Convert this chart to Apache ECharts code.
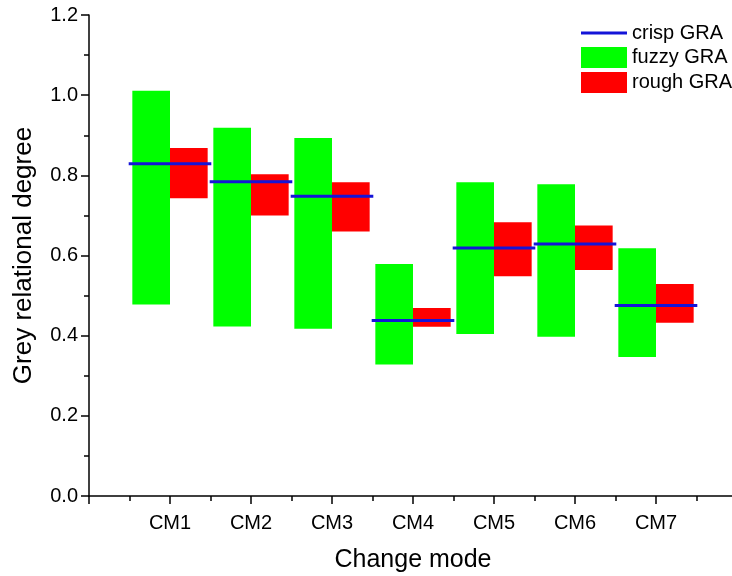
<!DOCTYPE html>
<html><head><meta charset="utf-8">
<script src="https://cdn.jsdelivr.net/npm/echarts@6/dist/echarts.min.js"></script>
<style>html,body{margin:0;padding:0;background:#fff}#c{width:732px;height:576px}</style>
</head><body><div id="c"></div>
<script>
const categories = ['CM1','CM2','CM3','CM4','CM5','CM6','CM7'];
const crispGRA  = [0.829,0.784,0.748,0.438,0.619,0.629,0.475];
const fuzzyLow  = [0.478,0.423,0.417,0.328,0.404,0.397,0.347];
const fuzzyHigh = [1.011,0.919,0.893,0.579,0.783,0.778,0.618];
const roughLow  = [0.743,0.700,0.660,0.422,0.548,0.564,0.432];
const roughHigh = [0.868,0.803,0.783,0.469,0.683,0.675,0.529];
const yTicks = [0.0,0.2,0.4,0.6,0.8,1.0,1.2];

const FONT = 'Liberation Sans, Arial, sans-serif';
const BAR_W = 0.465;
const LINE_HALF = 0.51;
const BLUE = '#1414d8';

const fuzzyData = categories.map((c,i)=>[i+1, fuzzyLow[i], fuzzyHigh[i]]);
const roughData = categories.map((c,i)=>[i+1, roughLow[i], roughHigh[i]]);
const crispData = [];
categories.forEach((c,i)=>{
  crispData.push([i+1-LINE_HALF, crispGRA[i]]);
  crispData.push([i+1+LINE_HALF, crispGRA[i]]);
  crispData.push([i+1+LINE_HALF, '-']);
});

function barRenderer(color, side){
  return function(params, api){
    const x = api.value(0), lo = api.value(1), hi = api.value(2);
    const w = api.size([1,0])[0]*BAR_W;
    const pT = api.coord([x, hi]), pB = api.coord([x, lo]);
    return {type:'rect',
      shape:{x: side<0 ? pT[0]-w : pT[0], y:pT[1], width:w, height:pB[1]-pT[1]},
      style:{fill:color}};
  };
}

const chart = echarts.init(document.getElementById('c'), null, {renderer:'canvas'});
chart.setOption({
  animation:false,
  backgroundColor:'#fff',
  grid:{left:89, right:-5, top:15, bottom:80, containLabel:false, outerBoundsMode:'none'},
  legend:{
    orient:'vertical', left:576, top:18, itemWidth:46, itemHeight:21, itemGap:4,
    symbolKeepAspect:true,
    textStyle:{fontSize:20, color:'#000', fontFamily:FONT},
    data:[{name:'crisp GRA', icon:'path://M0,0L46,0L46,3L0,3Z', itemStyle:{color:BLUE}},
          {name:'fuzzy GRA', icon:'rect'},{name:'rough GRA', icon:'rect'}]
  },
  xAxis:{
    type:'value', min:0, max:8, interval:1,
    name:'Change mode', nameLocation:'middle', nameGap:52,
    nameTextStyle:{fontSize:25, color:'#000', fontFamily:FONT},
    axisLine:{show:true, onZero:false, lineStyle:{color:'#000', width:1.5}},
    axisTick:{show:true, inside:false, length:8, lineStyle:{color:'#000', width:1.5}},
    minorTick:{show:true, splitNumber:2, length:5, lineStyle:{color:'#000', width:1.5}},
    splitLine:{show:false},
    axisLabel:{fontSize:20, color:'#000', fontFamily:FONT, margin:17,
      formatter:(v)=> (v>=1 && v<=categories.length) ? categories[v-1] : ''}
  },
  yAxis:{
    type:'value', min:yTicks[0], max:yTicks[yTicks.length-1], interval:yTicks[1]-yTicks[0],
    name:'Grey relational degree', nameLocation:'middle', nameGap:52,
    nameTextStyle:{fontSize:26, color:'#000', fontFamily:FONT},
    axisLine:{show:true, lineStyle:{color:'#000', width:1.5}},
    axisTick:{show:true, inside:false, length:8, lineStyle:{color:'#000', width:1.5}},
    minorTick:{show:true, splitNumber:2, length:5, lineStyle:{color:'#000', width:1.5}},
    splitLine:{show:false},
    axisLabel:{fontSize:20, color:'#000', fontFamily:FONT, margin:11,
      formatter:(v)=>v.toFixed(1)}
  },
  series:[
    {name:'fuzzy GRA', type:'custom', renderItem:barRenderer('#00ff00',-1),
      itemStyle:{color:'#00ff00'}, encode:{x:0, y:[1,2]}, data:fuzzyData, z:2},
    {name:'rough GRA', type:'custom', renderItem:barRenderer('#ff0000',1),
      itemStyle:{color:'#ff0000'}, encode:{x:0, y:[1,2]}, data:roughData, z:3},
    {name:'crisp GRA', type:'line', data:crispData, symbol:'none', showSymbol:false,
      connectNulls:false, lineStyle:{color:BLUE, width:3}, itemStyle:{color:BLUE}, z:4}
  ]
});
</script></body></html>
